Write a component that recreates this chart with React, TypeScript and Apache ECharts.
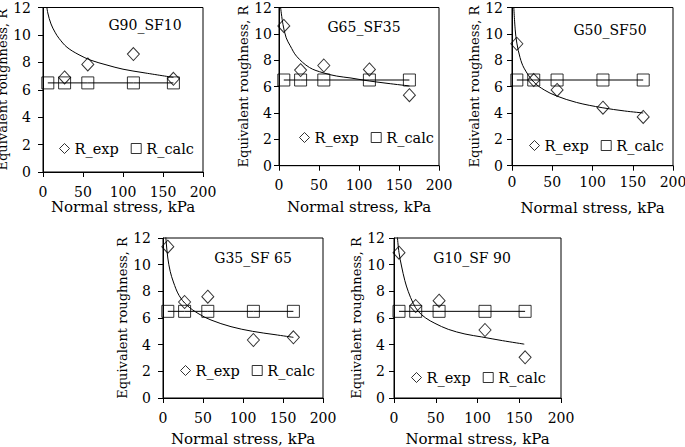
import React, { useEffect, useRef } from "react";
import * as echarts from "echarts";

// Normal stress (kPa) of the five test points
const stress = [6, 27, 56, 113, 163];
const stress5 = [6, 26, 54, 109, 157];

// Experimental equivalent roughness (first point of G90_SF10 lies above 12, off the chart)
const rExp1 = [null, 6.9, 7.85, 8.6, 6.8];
const rExp2 = [10.6, 7.25, 7.6, 7.3, 5.35];
const rExp3 = [9.25, 6.5, 5.75, 4.4, 3.7];
const rExp4 = [11.35, 7.2, 7.6, 4.35, 4.55];
const rExp5 = [10.9, 6.9, 7.3, 5.1, 3.05];

// Calculated roughness
const rCalc = [6.5, 6.5, 6.5, 6.5, 6.5];

// Fitted trend curves [stress, R]
const fit1 = [[4, 12.4], [6, 11.6], [10, 10.8], [15, 10.2], [20, 9.75], [30, 9.1], [45, 8.55], [60, 8.15], [80, 7.8], [100, 7.5], [125, 7.25], [163, 6.9]];
const fit2 = [[2, 12.0], [5, 10.7], [9, 9.7], [14, 9.1], [22, 8.3], [38, 7.45], [55, 7.05], [72, 6.8], [90, 6.65], [110, 6.45], [135, 6.25], [163, 6.05]];
const fit3 = [[2, 12.3], [4, 10.3], [6, 9.3], [10, 8.2], [15, 7.4], [27, 6.35], [40, 5.75], [55, 5.3], [80, 4.8], [112, 4.4], [140, 4.15], [163, 4.0]];
const fit4 = [[3, 12.5], [4, 11.7], [6, 10.5], [9, 9.5], [13, 8.7], [20, 7.7], [30, 6.95], [45, 6.3], [60, 5.85], [85, 5.35], [112, 5.0], [140, 4.75], [163, 4.55]];
const fit5 = [[4, 12.1], [6, 10.9], [9, 9.9], [13, 8.8], [17, 8.0], [23, 7.1], [29, 6.5], [38, 6.0], [49, 5.6], [65, 5.15], [85, 4.8], [105, 4.58], [130, 4.3], [156, 4.04]];

const panelNames = ["G90_SF10", "G65_SF35", "G50_SF50", "G35_SF 65", "G10_SF 90"];
const xTicks = { min: 0, max: 200, interval: 50 };
const yTicks = { min: 0, max: 12, interval: 2 };
const xAxisName = "Normal stress, kPa";
const yAxisName = "Equivalent roughness, R";

const FONT = "DejaVu Serif";

// layout per panel (pixels)
const layout = [
  { left: 43, top: 7.5, width: 160, height: 164.5, tx: 145, ty: 25, lx: 59, ly: 141, yGap: 28, xGap: 27.5, xm: 12.5, ym: 12 },
  { left: 279, top: 7.5, width: 160, height: 158.2, tx: 364, ty: 27, lx: 299, ly: 130, yGap: 29, xGap: 33.5, xm: 12, ym: 7 },
  { left: 512, top: 7.5, width: 161, height: 158.2, tx: 610, ty: 30, lx: 529, ly: 138, yGap: 30.5, xGap: 35, xm: 9, ym: 9 },
  { left: 163, top: 238, width: 160, height: 160, tx: 253, ty: 258, lx: 180, ly: 363, yGap: 28, xGap: 33.5, xm: 13, ym: 12 },
  { left: 394, top: 238, width: 167, height: 160, tx: 472, ty: 258, lx: 411, ly: 370, yGap: 30, xGap: 33.5, xm: 13, ym: 9 },
];

export default function App() {
  const ref = useRef<HTMLDivElement>(null);
  useEffect(() => {
    if (!ref.current) return;
    const chart = echarts.init(ref.current, null, { renderer: "svg" });
    const exps = [rExp1, rExp2, rExp3, rExp4, rExp5];
    const xs = [stress, stress, stress, stress, stress5];
    const fits = [fit1, fit2, fit3, fit4, fit5];

    const grids: any[] = [];
    const xAxes: any[] = [];
    const yAxes: any[] = [];
    const series: any[] = [];
    const legends: any[] = [];
    const graphics: any[] = [];

    const axisCommon = {
      axisLine: { show: true, lineStyle: { color: "#000", width: 1 } },
      axisTick: { show: true, inside: false, length: 5, lineStyle: { color: "#000", width: 1 } },
      splitLine: { show: false },
      nameLocation: "middle",
    };

    layout.forEach((L, i) => {
      grids.push({
        left: L.left, top: L.top, width: L.width, height: L.height,
        outerBoundsMode: "none", containLabel: false,
        show: true, borderColor: "#000", borderWidth: 1, backgroundColor: "transparent",
      });
      xAxes.push({
        ...axisCommon, type: "value", gridIndex: i, ...xTicks,
        name: xAxisName, nameGap: L.xGap,
        nameTextStyle: { color: "#000", fontFamily: FONT, fontSize: 15 },
        axisLabel: { color: "#000", fontFamily: FONT, fontSize: 14, margin: L.xm },
      });
      yAxes.push({
        ...axisCommon, type: "value", gridIndex: i, ...yTicks,
        name: yAxisName, nameGap: L.yGap,
        nameTextStyle: { color: "#000", fontFamily: FONT, fontSize: 13 },
        axisLabel: { color: "#000", fontFamily: FONT, fontSize: 14, margin: L.ym },
      });
      const expData = xs[i].map((x, k) => [x, exps[i][k]]).filter((p) => p[1] !== null);
      const calcData = xs[i].map((x, k) => [x, rCalc[k]]);
      series.push({
        type: "line", name: "fit", xAxisIndex: i, yAxisIndex: i, data: fits[i],
        smooth: 0.35, showSymbol: false, symbol: "none", clip: true, silent: true,
        lineStyle: { color: "#000", width: 1 },
      });
      series.push({
        type: "line", name: "calcLine", xAxisIndex: i, yAxisIndex: i, data: calcData,
        showSymbol: false, symbol: "none", clip: true, silent: true,
        lineStyle: { color: "#000", width: 1 },
      });
      series.push({
        type: "scatter", name: "R_exp", xAxisIndex: i, yAxisIndex: i, data: expData,
        symbol: "diamond", symbolSize: [12, 13], clip: true,
        itemStyle: { color: "rgba(0,0,0,0)", borderColor: "#000", borderWidth: 1 },
      });
      series.push({
        type: "scatter", name: "R_calc", xAxisIndex: i, yAxisIndex: i, data: calcData,
        symbol: "rect", symbolSize: 12, clip: true,
        itemStyle: { color: "rgba(0,0,0,0)", borderColor: "#000", borderWidth: 1 },
      });
      legends.push({
        left: L.lx, top: L.ly, orient: "horizontal", padding: 0, itemGap: 12,
        itemWidth: 10, itemHeight: 10, selectedMode: false,
        textStyle: { color: "#000", fontFamily: FONT, fontSize: 14.5 },
        data: [
          { name: "R_exp", icon: "diamond", itemStyle: { color: "rgba(0,0,0,0)", borderColor: "#000", borderWidth: 1 } },
          { name: "R_calc", icon: "rect", itemStyle: { color: "rgba(0,0,0,0)", borderColor: "#000", borderWidth: 1 } },
        ],
      });
      graphics.push({
        type: "text", x: L.tx, y: L.ty, silent: true,
        style: {
          text: panelNames[i], fill: "#000", fontFamily: FONT, fontSize: 14,
          align: "center", verticalAlign: "middle", textAlign: "center", textVerticalAlign: "middle",
        },
      });
    });

    chart.setOption({
      animation: false,
      backgroundColor: "#fff",
      textStyle: { fontFamily: FONT, color: "#000" },
      grid: grids,
      xAxis: xAxes,
      yAxis: yAxes,
      legend: legends,
      series,
      graphic: graphics,
    });
    return () => chart.dispose();
  }, []);
  return (
    <div
      ref={ref}
      style={{ position: "fixed", left: 0, top: 0, width: 685, height: 447, background: "#fff" }}
    />
  );
}
